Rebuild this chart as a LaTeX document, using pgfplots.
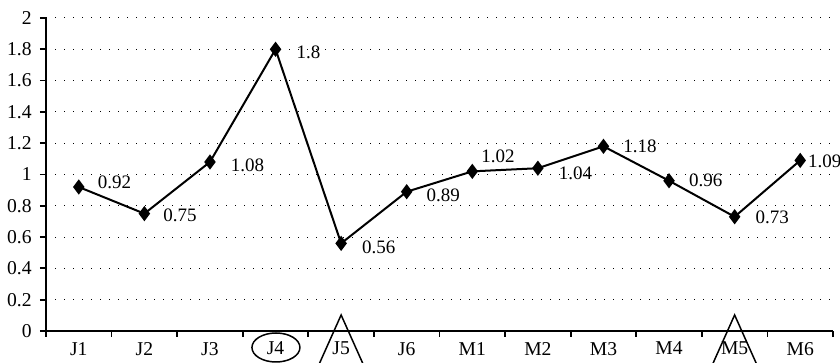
\documentclass[border=0pt]{standalone}
\usepackage{pgfplots}
\pgfplotsset{compat=1.18}
\usepackage{pgfplotstable}
\usepackage{fontspec}
\setmainfont{Liberation Serif}
\begin{document}
\begin{tikzpicture}
\pgfplotstableread{
x y dx dy lab
0 0.92 9 2.5 0.92
1 0.75 9 -1 0.75
2 1.08 10 -1.5 1.08
3 1.8 10 -1.5 1.8
4 0.56 10 -2 0.56
5 0.89 9.5 -2 0.89
6 1.02 4 7.5 1.02
7 1.04 10 -2.5 1.04
8 1.18 9.5 0 1.18
9 0.96 9.5 0 0.96
10 0.73 10 -0.5 0.73
11 1.09 3.5 -0.5 1.09
}\datatable
\begin{axis}[
  at={(23pt,16pt)}, anchor=south west,
  scale only axis, width=393.5pt, height=156.5pt,
  xmin=-0.5, xmax=11.5, ymin=0, ymax=2,
  clip=false,
  axis x line=bottom, axis y line=left,
  axis line style={-, line width=0.9pt, black},
  tick align=outside,
  xtick={0,1,2,3,4,5,6,7,8,9,10,11},
  xticklabels={J1,J2,J3,J4,J5,J6,M1,M2,M3,M4,M5,M6},
  minor xtick={-0.5,0.5,1.5,2.5,3.5,4.5,5.5,6.5,7.5,8.5,9.5,10.5,11.5},
  major x tick style={draw=none},
  minor x tick style={line width=0.9pt, black},
  major y tick style={line width=0.9pt, black},
  major tick length=3pt, minor tick length=3pt,
  ytick={0,0.2,0.4,0.6,0.8,1,1.2,1.4,1.6,1.8,2},
  yticklabels={0,0.2,0.4,0.6,0.8,1,1.2,1.4,1.6,1.8,2},
  ymajorgrids,
  major grid style={black, line width=0.5pt, dash pattern=on 0.5pt off 4pt},
  tick label style={font=\fontsize{9.8}{11}\selectfont},
  yticklabel style={inner sep=0pt, xshift=-4pt},
  xticklabel style={yshift=1pt},
  /pgf/number format/assume math mode=true,
]
\addplot[black, line width=1pt, mark=diamond*, mark size=3pt,
  mark options={solid, fill=black},
  visualization depends on={\thisrow{dx} \as \dx},
  visualization depends on={\thisrow{dy} \as \dy},
  point meta=explicit symbolic,
  nodes near coords,
  nodes near coords style={anchor=west, inner sep=0pt, xshift=\dx pt, yshift=\dy pt, font=\fontsize{9.5}{11}\selectfont, text=black},
] table[x=x, y=y, meta=lab] {\datatable};
\draw[line width=0.75pt] ([xshift=0.2pt, yshift=-8.25pt]axis cs:3,0) ellipse [x radius=12pt, y radius=7.25pt];
\draw[line width=0.75pt] ([xshift=-17.9pt,yshift=-32pt]axis cs:4,0) -- ([yshift=8pt]axis cs:4,0) -- ([xshift=17.9pt,yshift=-32pt]axis cs:4,0);
\draw[line width=0.75pt] ([xshift=-17.9pt,yshift=-32pt]axis cs:10,0) -- ([yshift=8pt]axis cs:10,0) -- ([xshift=17.9pt,yshift=-32pt]axis cs:10,0);
\end{axis}
\pgfresetboundingbox
\useasboundingbox (0,0) rectangle (420pt,181.5pt);
\end{tikzpicture}
\end{document}
